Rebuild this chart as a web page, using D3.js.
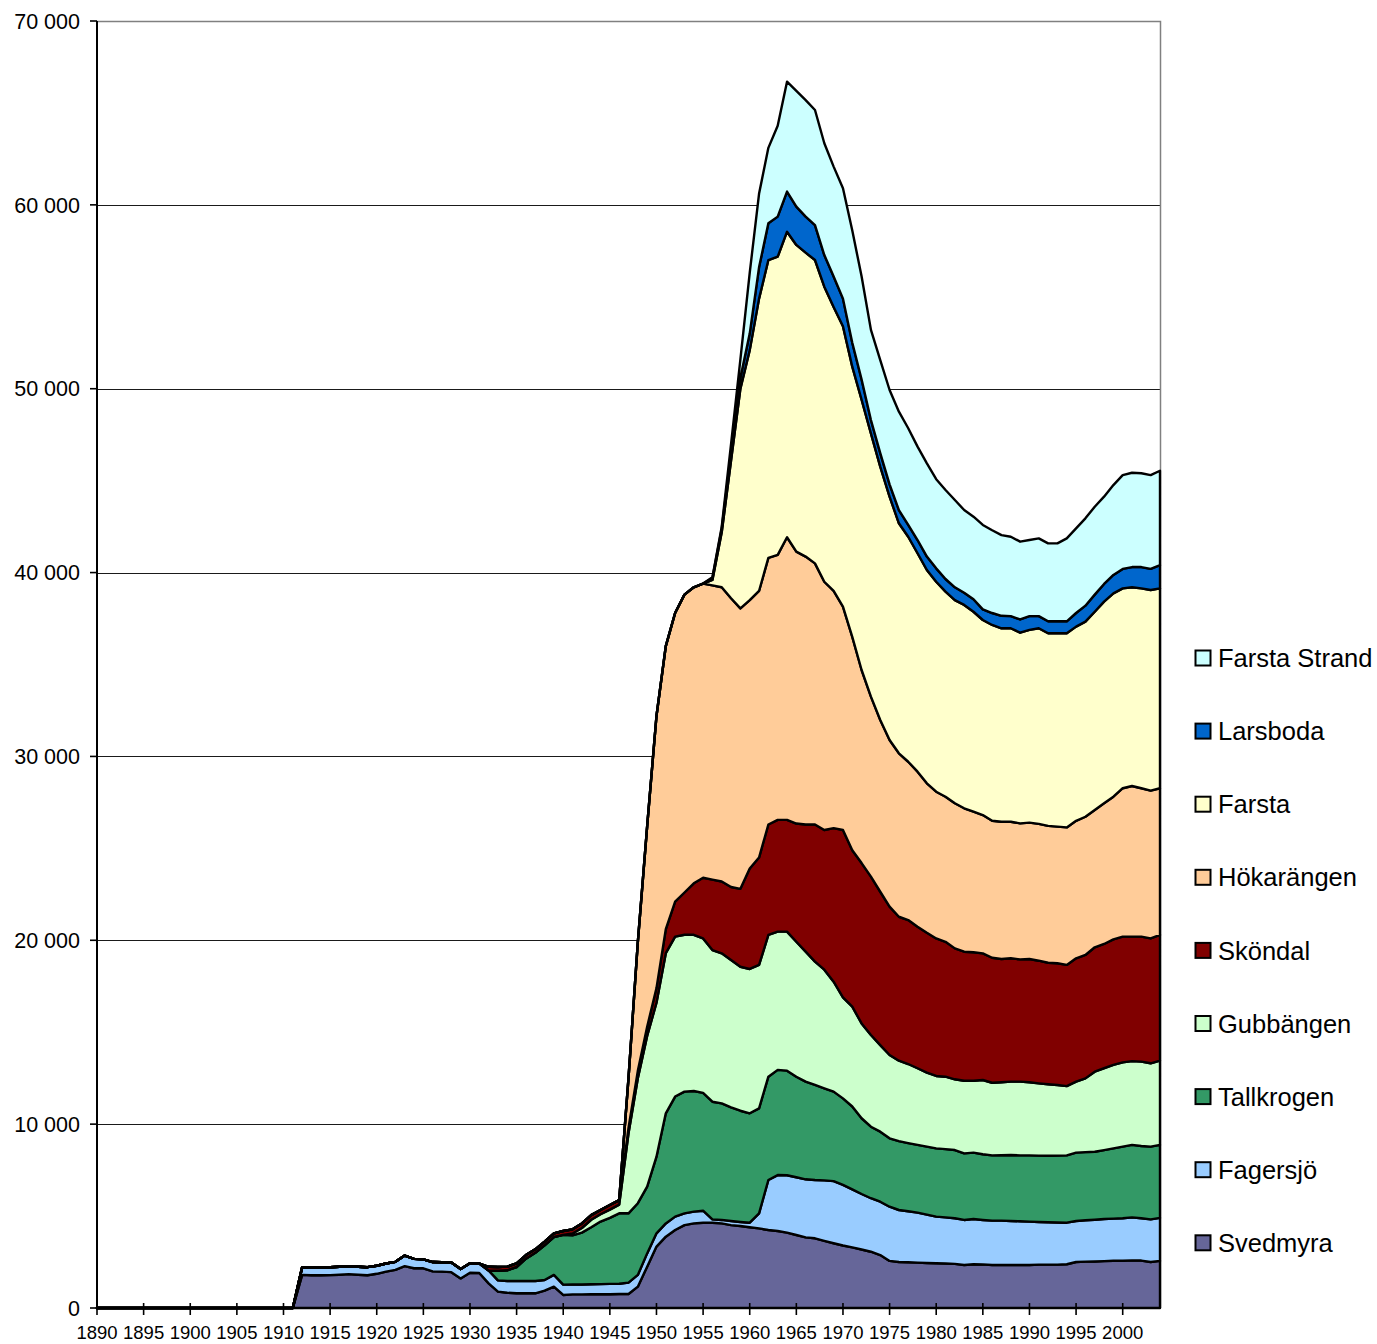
<!DOCTYPE html>
<html><head><meta charset="utf-8">
<script src="https://cdn.jsdelivr.net/npm/d3@7"></script>
<style>
body{margin:0;background:#fff}
svg{display:block}
text{font-family:"Liberation Sans",Arial,sans-serif;fill:#000}
</style>
</head><body>
<svg id="chart" width="1377" height="1344"></svg>
<script>
// ---- categories ----
const years = d3.range(1890, 2005);
const xTickYears = [1890,1895,1900,1905,1910,1915,1920,1925,1930,1935,1940,1945,1950,1955,1960,1965,1970,1975,1980,1985,1990,1995,2000];
const yTicks = [0,10000,20000,30000,40000,50000,60000,70000];
const yTickLabels = ["0","10 000","20 000","30 000","40 000","50 000","60 000","70 000"];

// ---- series values (inhabitants per year, 1890–2004) ----
const svedmyra = [
0,0,0,0,0,0,0,0,0,0, 0,0,0,0,0,0,0,0,0,0, 0,0,
1800,1780,1780,1790,1810,1840,1810,1780,1860,1980,2070,2280,2160,2160,1990,1980,1950,1610,1920,1900,
1340,890,830,800,800,800,940,1160,710,740,740,750,750,750,760,
760,1160,2250,3340,3880,4240,4510,4600,4640,4640,
4600,4510,4460,4390,4330,4240,4190,4100,3970,3840,
3790,3650,3520,3400,3300,3180,3060,2880,2560,2500,
2490,2470,2450,2430,2420,2400,2340,2380,2370,2340,
2340,2340,2340,2340,2360,2360,2360,2380,2500,2520,
2530,2550,2570,2570,2590,2580,2500,2560];

const fagersjo = [
0,0,0,0,0,0,0,0,0,0, 0,0,0,0,0,0,0,0,0,0, 0,0,
420,430,430,430,430,420,430,440,440,440,440,570,510,490,510,510,520,510,510,520,
700,610,640,670,670,670,580,640,560,540,540,540,550,560,560,
620,640,720,720,720,730,640,640,650,180,
190,220,220,250,820,2720,3040,3120,3140,3160,
3170,3290,3380,3300,3150,3020,2910,2900,2950,2830,
2770,2720,2630,2540,2510,2480,2450,2460,2420,2410,
2410,2390,2380,2360,2320,2300,2290,2260,2230,2250,
2270,2290,2290,2310,2340,2300,2320,2340];

const tallkrogen = [
0,0,0,0,0,0,0,0,0,0, 0,0,0,0,0,0,0,0,0,0, 0,0,
0,0,0,0,0,0,0,0,0,0, 0,0,0,0,0,0,0,0,0,0,
0,530,580,760,1210,1530,1890,2060,2710,2670,2820,3100,3400,3590,3830,
3770,3900,3630,4170,5990,6530,6620,6560,6410,6400,
6340,6180,6050,5950,5710,5620,5720,5690,5470,5310,
5170,5010,4870,4700,4510,4120,3890,3810,3720,3750,
3710,3680,3700,3710,3710,3710,3620,3610,3570,3550,
3560,3590,3580,3600,3610,3620,3640,3660,3720,3710,
3700,3750,3820,3900,3940,3930,3960,3970];

const gubbangen = [
0,0,0,0,0,0,0,0,0,0, 0,0,0,0,0,0,0,0,0,0, 0,0,
0,0,0,0,0,0,0,0,0,0, 0,0,0,0,0,0,0,0,0,0,
0,0,0,0,0,0,0,0,0,100,250,410,400,450,470,
4350,6800,8200,8370,8710,8700,8530,8500,8400,8250,
8160,8020,7830,7850,7800,7710,7520,7560,7340,7070,
6710,6450,5980,5500,5430,5160,4990,4710,4530,4370,
4300,4170,4020,3940,3940,3850,3950,3910,4040,3950,
3970,3990,4010,3980,3930,3890,3840,3770,3860,4010,
4350,4450,4540,4580,4560,4590,4530,4580];

const skondal = [
0,0,0,0,0,0,0,0,0,0, 0,0,0,0,0,0,0,0,0,0, 0,0,
0,0,0,0,0,0,0,0,0,0, 0,0,0,0,0,0,0,0,0,0,
200,200,200,200,200,190,200,200,210,230,250,250,230,250,250,
300,400,500,800,1300,1900,2300,2800,3300,3830,
3910,3970,4240,5460,5840,6010,6080,6080,6430,6920,
7460,7600,8350,9100,8510,8720,8610,8340,8070,7830,
7830,7700,7610,7480,7340,7120,7020,6990,6890,6800,
6700,6710,6650,6700,6670,6610,6620,6590,6710,6710,
6770,6760,6830,6840,6770,6800,6790,6840];

const hokarangen = [
0,0,0,0,0,0,0,0,0,0, 0,0,0,0,0,0,0,0,0,0, 0,0,
0,0,0,0,0,0,0,0,0,0, 0,0,0,0,0,0,0,0,0,0,
0,0,0,0,0,0,0,0,0,0,0,0,0,0,0,
2700,7000,10900,14800,15400,15700,16200,16100,16000,16000,
16000,15700,15250,14600,14500,14500,14410,15370,14790,14570,
14200,13500,12900,12150,11600,10500,9790,9340,9060,8890,
8610,8430,8130,7980,7890,7890,7800,7650,7520,7450,
7470,7430,7400,7420,7440,7440,7430,7480,7480,7520,
7470,7650,7760,8070,8190,8070,8040,7980];

const farsta = [
0,0,0,0,0,0,0,0,0,0, 0,0,0,0,0,0,0,0,0,0, 0,0,
0,0,0,0,0,0,0,0,0,0, 0,0,0,0,0,0,0,0,0,0,
0,0,0,0,0,0,0,0,0,0,0,0,0,0,0,
0,0,0,0,0,0,0,0,0,300,
3000,7500,11950,13600,15900,16200,16220,16620,16680,16530,
16500,16050,15450,15250,14700,14700,14320,13780,13240,12510,
12240,11880,11600,11420,11150,11050,11060,10870,10610,10650,
10520,10520,10370,10480,10640,10480,10520,10560,10560,10610,
10780,10970,11060,10870,10810,10870,10910,10870];

const larsboda = [
0,0,0,0,0,0,0,0,0,0, 0,0,0,0,0,0,0,0,0,0, 0,0,
0,0,0,0,0,0,0,0,0,0, 0,0,0,0,0,0,0,0,0,0,
0,0,0,0,0,0,0,0,0,0,0,0,0,0,0,
0,0,0,0,0,0,0,0,0,100,
200,400,600,900,1700,2000,2180,2180,2080,1960,
1900,1720,1650,1500,1300,1100,730,740,670,720,
650,720,730,730,690,700,660,680,580,650,
680,660,720,750,660,650,650,650,740,870,
930,960,1000,1060,1100,1160,1150,1260];

const farstaStrand = [
0,0,0,0,0,0,0,0,0,0, 0,0,0,0,0,0,0,0,0,0, 0,0,
0,0,0,0,0,0,0,0,0,0, 0,0,0,0,0,0,0,0,0,0,
0,0,0,0,0,0,0,0,0,0,0,0,0,0,0,
0,0,0,0,0,0,0,0,0,50,
100,500,1000,3300,4000,4100,4940,5980,6300,6340,
6260,6080,5980,6000,6100,5600,4900,5060,5130,5350,
5250,5080,5070,4850,4840,4750,4500,4490,4590,4500,
4390,4320,4230,4140,4230,4240,4240,4510,4600,4750,
4780,4750,4890,5100,5130,5100,5100,5140];

const seriesNames = ["Svedmyra","Fagersjö","Tallkrogen","Gubbängen","Sköndal","Hökarängen","Farsta","Larsboda","Farsta Strand"];
const seriesValues = [svedmyra,fagersjo,tallkrogen,gubbangen,skondal,hokarangen,farsta,larsboda,farstaStrand];
const seriesColors = ["#666699","#99CCFF","#339966","#CCFFCC","#800000","#FFCC99","#FFFFCC","#0066CC","#CCFFFF"];

// ---- layout ----
const L = 97, R = 1160, T = 21, B = 1308;
const svg = d3.select("#chart");
svg.append("rect").attr("width",1377).attr("height",1344).attr("fill","#fff");

const x = d3.scaleLinear().domain([1890, 2004]).range([L, R]);
const y = d3.scaleLinear().domain([0, 70000]).range([B, T]);

const rows = years.map((yr,i)=>{
  const r = {year: yr};
  seriesNames.forEach((n,k)=>{ r[n] = seriesValues[k][i]; });
  return r;
});
const stacked = d3.stack().keys(seriesNames)(rows);

// gridlines
svg.append("g").selectAll("line").data(yTicks.filter(v=>v>0)).join("line")
  .attr("x1",L).attr("x2",R)
  .attr("y1",d=>Math.round(y(d))+0.5).attr("y2",d=>Math.round(y(d))+0.5)
  .attr("stroke","#1a1a1a").attr("stroke-width",1);

// plot border (top/right)
svg.append("path")
  .attr("d",`M${L},${T+0.5}H${R+0.5}V${B}`)
  .attr("fill","none").attr("stroke","#808080").attr("stroke-width",1.5);

// areas
const area = d3.area()
  .x(d=>x(d.data.year))
  .y0(d=>y(d[0]))
  .y1(d=>y(d[1]));

svg.append("g").selectAll("path").data(stacked).join("path")
  .attr("d", d=>area(d) )
  .attr("fill",(d,i)=>seriesColors[i])
  .attr("stroke","#000").attr("stroke-width",2.4)
  .attr("stroke-linejoin","round");

// axes
const xAxisG = svg.append("g");
xAxisG.append("line").attr("x1",L).attr("x2",R).attr("y1",B).attr("y2",B)
  .attr("stroke","#000").attr("stroke-width",2);
xAxisG.selectAll("line.tick").data(xTickYears).join("line").attr("class","tick")
  .attr("x1",d=>x(d)).attr("x2",d=>x(d)).attr("y1",B-5).attr("y2",B+7)
  .attr("stroke","#000").attr("stroke-width",1.6);
xAxisG.selectAll("text").data(xTickYears).join("text")
  .attr("x",d=>x(d)).attr("y",1339)
  .attr("text-anchor","middle").attr("font-size","18.5px")
  .text(d=>String(d));

const yAxisG = svg.append("g");
yAxisG.append("line").attr("x1",L).attr("x2",L).attr("y1",T).attr("y2",B+1)
  .attr("stroke","#000").attr("stroke-width",2);
yAxisG.selectAll("line.tick").data(yTicks).join("line").attr("class","tick")
  .attr("x1",L-7).attr("x2",L).attr("y1",d=>y(d)).attr("y2",d=>y(d))
  .attr("stroke","#000").attr("stroke-width",1.6);
yAxisG.selectAll("text").data(yTicks).join("text")
  .attr("x",80).attr("y",d=>y(d)).attr("dy","0.36em")
  .attr("text-anchor","end").attr("font-size","21.5px")
  .text((d,i)=>yTickLabels[i]);

// legend (top entry = last series)
const legendOrder = seriesNames.map((n,i)=>i).reverse();
const lg = svg.append("g");
legendOrder.forEach((si,j)=>{
  const cy = 658 + j*73.1;
  lg.append("rect").attr("x",1195.5).attr("y",cy-7.5).attr("width",15).attr("height",15)
    .attr("fill",seriesColors[si]).attr("stroke","#000").attr("stroke-width",2);
  lg.append("text").attr("x",1218).attr("y",cy).attr("dy","0.36em")
    .attr("font-size","25.5px").text(seriesNames[si]);
});
</script>
</body></html>
